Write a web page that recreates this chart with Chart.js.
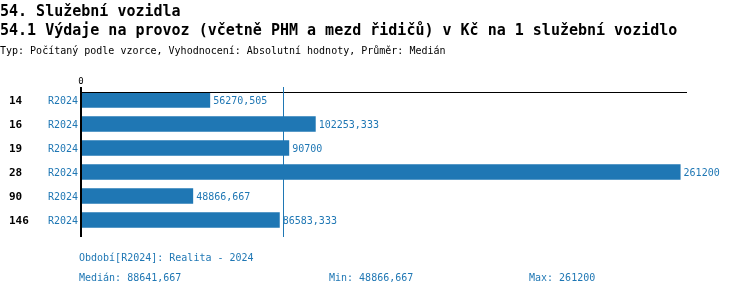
<!DOCTYPE html>
<html>
<head>
<meta charset="utf-8">
<script src="https://cdn.jsdelivr.net/npm/chart.js@4"></script>
<style>
  body { margin: 0; background: #fff; }
  #wrap { position: relative; width: 750px; height: 296px; overflow: hidden; font-family: "DejaVu Sans Mono", monospace; }
  #chart { position: absolute; left: 0; top: 0; }
  .t { position: absolute; white-space: pre; }
  .h1 { font-size: 15px; line-height: 15px; font-weight: bold; color: #000; }
  .h3 { font-size: 10px; line-height: 10px; color: #000; }
  .ft { font-size: 10px; line-height: 10px; color: #1f77b4; }
</style>
</head>
<body>
<div id="wrap">
  <canvas id="chart" width="750" height="296"></canvas>
  <div class="t h1" style="left:0;top:4px">54. Služební vozidla</div>
  <div class="t h1" style="left:0;top:23px">54.1 Výdaje na provoz (včetně PHM a mezd řidičů) v Kč na 1 služební vozidlo</div>
  <div class="t h3" style="left:0;top:46px">Typ: Počítaný podle vzorce, Vyhodnocení: Absolutní hodnoty, Průměr: Medián</div>
  <div class="t ft" id="period" style="left:79px;top:253px"></div>
  <div class="t ft" id="fMed" style="left:79px;top:273px"></div>
  <div class="t ft" id="fMin" style="left:329px;top:273px"></div>
  <div class="t ft" id="fMax" style="left:529px;top:273px"></div>
</div>
<script>
// data
const categories = ['14', '16', '19', '28', '90', '146'];
const periods = ['R2024', 'R2024', 'R2024', 'R2024', 'R2024', 'R2024'];
const values = [56270.505, 102253.333, 90700, 261200, 48866.667, 86583.333];
const median = 88641.667;
const periodName = 'Období[R2024]: Realita - 2024';
const xMax = 264000;

const blue = '#1f77b4';
const fmt = v => String(Math.round(v * 1000) / 1000).replace('.', ',');

document.getElementById('period').textContent = periodName;
document.getElementById('fMed').textContent = 'Medián: ' + fmt(median);
document.getElementById('fMin').textContent = 'Min: ' + fmt(Math.min(...values));
document.getElementById('fMax').textContent = 'Max: ' + fmt(Math.max(...values));

// popisky, osy a čára mediánu
const decor = {
  id: 'decor',
  afterDatasetsDraw(chart) {
    const ctx = chart.ctx;
    const x = chart.scales.x, y = chart.scales.y;
    const a = chart.chartArea;
    const x0 = x.getPixelForValue(0);
    ctx.save();

    // horní linka
    ctx.fillStyle = '#000';
    ctx.fillRect(x0, a.top + 4, a.right - x0, 1);
    // svislá osa
    ctx.fillRect(x0 - 1, a.top - 1, 2, a.bottom - a.top + 6);
    // medián
    ctx.fillStyle = blue;
    ctx.fillRect(Math.round(x.getPixelForValue(median)) - 1, a.top - 1, 1, a.bottom - a.top + 6);

    // tick 0
    ctx.fillStyle = '#000';
    ctx.font = '9px "DejaVu Sans Mono"';
    ctx.textAlign = 'center';
    ctx.textBaseline = 'alphabetic';
    ctx.fillText('0', x0, a.top - 4);

    const meta = chart.getDatasetMeta(0);
    categories.forEach((c, i) => {
      const cy = y.getPixelForValue(i) + 4;
      ctx.fillStyle = '#000';
      ctx.font = 'bold 11px "DejaVu Sans Mono"';
      ctx.textAlign = 'left';
      ctx.fillText(c, 9, cy);
      ctx.fillStyle = blue;
      ctx.font = '10px "DejaVu Sans Mono"';
      ctx.textAlign = 'right';
      ctx.fillText(periods[i], 78, cy);
      ctx.textAlign = 'left';
      ctx.fillText(fmt(values[i]), meta.data[i].x + 3, cy);
    });
    ctx.restore();
  }
};

new Chart(document.getElementById('chart'), {
  type: 'bar',
  data: {
    labels: categories,
    datasets: [{
      data: values,
      backgroundColor: blue,
      borderWidth: 0,
      barPercentage: 0.65,
      categoryPercentage: 1
    }]
  },
  options: {
    indexAxis: 'y',
    responsive: false,
    animation: false,
    layout: { padding: { left: 81, top: 88, right: 63, bottom: 64 } },
    plugins: { legend: { display: false }, tooltip: { enabled: false } },
    scales: {
      x: { display: false, min: 0, max: xMax },
      y: { display: false }
    }
  },
  plugins: [decor]
});
</script>
</body>
</html>
